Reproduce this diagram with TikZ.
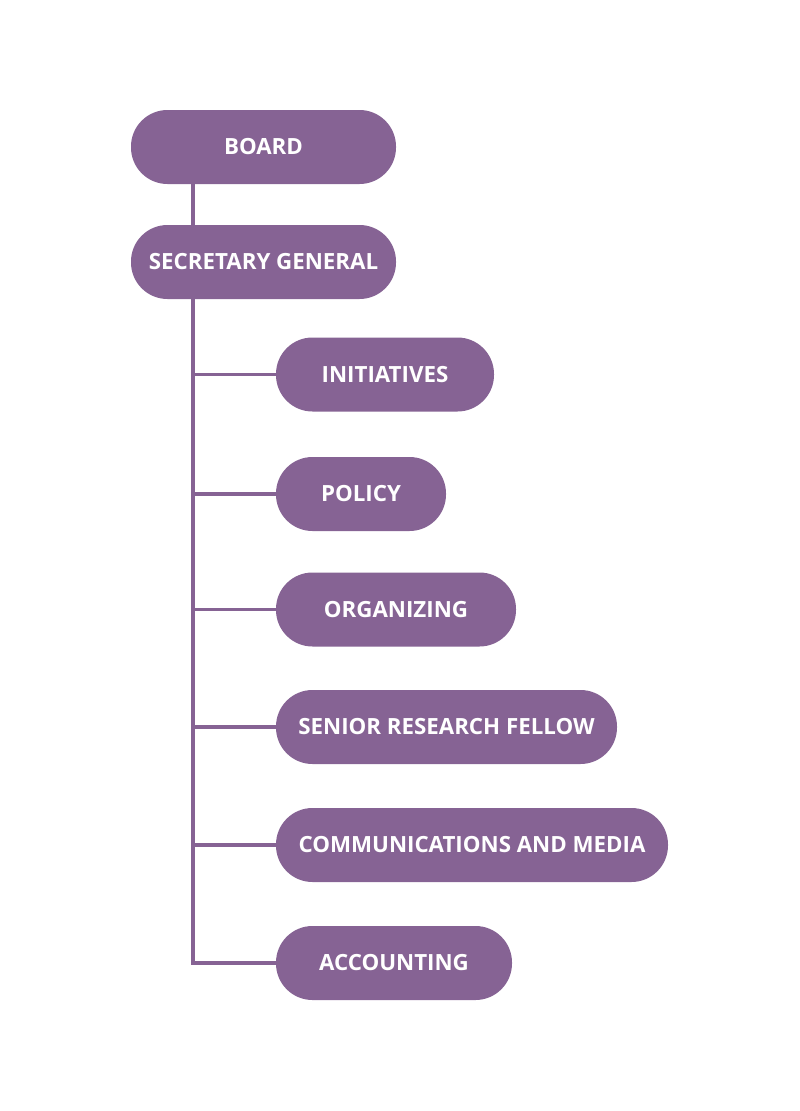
\documentclass[tikz,border=0pt]{standalone}
\usepackage{fontspec}
\setmainfont{Open Sans}
\definecolor{purp}{HTML}{866394}
\begin{document}
\begin{tikzpicture}[x=1pt,y=1pt,
  box/.style={fill=purp,draw=none,rounded corners=36.5pt,minimum height=74pt,inner sep=0pt,
    text=white,font=\fontsize{22.3}{25}\selectfont\bfseries},
  conn/.style={draw=purp,line width=3.3pt}]
\useasboundingbox (0,0) rectangle (800,-1111);
\node[box,minimum width=265pt] (board) at (263.5,-147) {BOARD};
\node[box,minimum width=265pt] (sg) at (263.5,-262) {SECRETARY GENERAL};
\node[box,minimum width=218pt] (init) at (385,-374.5) {INITIATIVES};
\node[box,minimum width=170pt] (pol) at (361,-494) {POLICY};
\node[box,minimum width=240pt] (org) at (396,-609.5) {ORGANIZING};
\node[box,minimum width=341pt] (srf) at (446.5,-727) {SENIOR RESEARCH FELLOW};
\node[box,minimum width=392pt] (com) at (472,-845) {COMMUNICATIONS AND MEDIA};
\node[box,minimum width=236pt] (acc) at (394,-963) {ACCOUNTING};
\coordinate (t) at (193,0);
\draw[conn] (t |- board.south) -- (t |- sg.north);
\draw[conn] (t |- sg.south) |- (acc.west);
\foreach \n in {init,pol,org,srf,com}{\draw[conn] (t |- \n.west) -- (\n.west);}
\end{tikzpicture}
\end{document}
